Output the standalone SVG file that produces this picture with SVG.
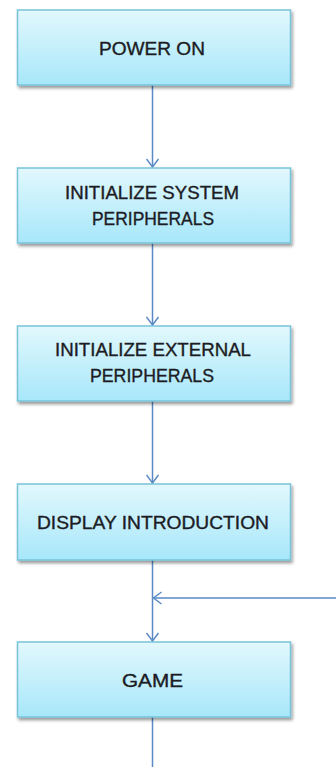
<svg xmlns="http://www.w3.org/2000/svg" width="336" height="767" viewBox="0 0 336 767">
<style>
.box{fill:url(#g);stroke:#78c3d8;stroke-width:1.5;filter:url(#sh)}
.t{font-family:"Liberation Sans",Arial,sans-serif;font-size:17.5px;fill:#1c1c24;stroke:#1c1c24;stroke-width:0.35;text-anchor:middle}
.c{stroke:#5a8ac6;stroke-width:1.5;fill:none}
</style>
<defs>
<linearGradient id="g" x1="0" y1="0" x2="0" y2="1">
<stop offset="0" stop-color="#e2f8fd"/>
<stop offset="1" stop-color="#a7e7fa"/>
</linearGradient>
<filter id="sh" x="-10%" y="-10%" width="120%" height="130%">
<feDropShadow dx="1.5" dy="2.5" stdDeviation="1.5" flood-color="#000" flood-opacity="0.4"/>
</filter>
<marker id="a" markerWidth="12" markerHeight="14" refX="9" refY="7" orient="auto" markerUnits="userSpaceOnUse">
<path d="M1,1 L9,7 L1,13" fill="none" stroke="#5a8ac6" stroke-width="1.5"/>
</marker>
</defs>
<g id="connectors">
<line class="c" x1="152.5" y1="85" x2="152.5" y2="167" marker-end="url(#a)"/>
<line class="c" x1="152.5" y1="243" x2="152.5" y2="325" marker-end="url(#a)"/>
<line class="c" x1="152.5" y1="401" x2="152.5" y2="483" marker-end="url(#a)"/>
<line class="c" x1="152.5" y1="560" x2="152.5" y2="641" marker-end="url(#a)"/>
<line class="c" x1="336" y1="598" x2="153.5" y2="598" marker-end="url(#a)"/>
<line class="c" x1="152.5" y1="717" x2="152.5" y2="767"/>
</g>
<g id="power-on">
<rect class="box" x="17.5" y="10" width="273" height="75"/>
<text class="t" x="152" y="55" textLength="106" lengthAdjust="spacingAndGlyphs">POWER ON</text>
</g>
<g id="init-system">
<rect class="box" x="17.5" y="168" width="273" height="75"/>
<text class="t" x="152" y="199" textLength="174" lengthAdjust="spacingAndGlyphs">INITIALIZE SYSTEM</text>
<text class="t" x="153" y="225" textLength="122" lengthAdjust="spacingAndGlyphs">PERIPHERALS</text>
</g>
<g id="init-external">
<rect class="box" x="17.5" y="326" width="273" height="75"/>
<text class="t" x="153" y="356" textLength="196" lengthAdjust="spacingAndGlyphs">INITIALIZE EXTERNAL</text>
<text class="t" x="152" y="382" textLength="124" lengthAdjust="spacingAndGlyphs">PERIPHERALS</text>
</g>
<g id="display-intro">
<rect class="box" x="17.5" y="484" width="273" height="76"/>
<text class="t" x="153" y="529" textLength="232" lengthAdjust="spacingAndGlyphs">DISPLAY INTRODUCTION</text>
</g>
<g id="game">
<rect class="box" x="17.5" y="642" width="273" height="75"/>
<text class="t" x="152.5" y="687" textLength="61" lengthAdjust="spacingAndGlyphs">GAME</text>
</g>
</svg>
